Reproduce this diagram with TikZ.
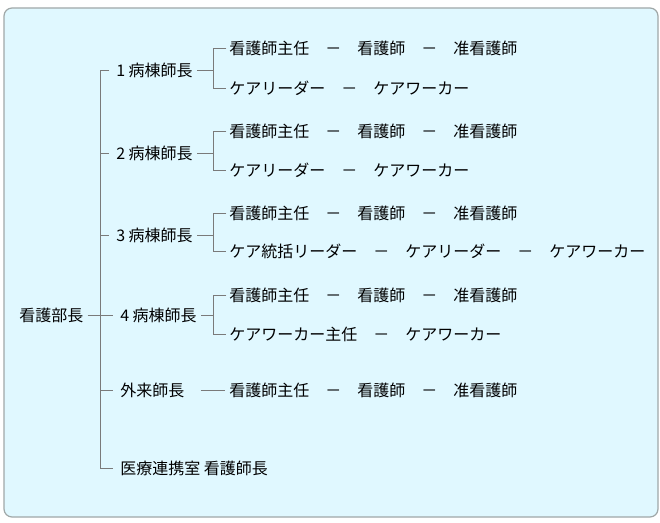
\documentclass[tikz,border=0pt]{standalone}
\usepackage{fontspec}
\setmainfont{Noto Sans CJK JP}
\usetikzlibrary{positioning}
\definecolor{bgcyan}{HTML}{E0F8FF}
\definecolor{frame}{HTML}{A0A8A8}
\definecolor{linegray}{HTML}{7A7A7A}
\newcommand{\sep}{\hspace{1em}－\hspace{1em}}

\begin{document}
\begin{tikzpicture}[
    x=0.75pt, y=-0.75pt,
    lbl/.style={anchor=west, inner sep=0pt, font=\fontsize{12pt}{14pt}\selectfont},
    line/.style={draw=linegray, line width=0.6pt}]
\useasboundingbox (0,0) rectangle (660,523);
\draw[frame, fill=bgcyan, rounded corners=6pt, line width=0.9pt] (4,8) rectangle (658,517);

% head and second level
\node[lbl] (head) at (19,315) {看護部長};
\node[lbl] (w1) at (116,70) {1 病棟師長};
\node[lbl] (w2) at (116,153) {2 病棟師長};
\node[lbl] (w3) at (116,235) {3 病棟師長};
\node[lbl] (w4) at (120,315) {4 病棟師長};
\node[lbl] (out) at (120,390) {外来師長};
\node[lbl] (med) at (120,468) {医療連携室 看護師長};

% third level
\node[lbl] (w1a) at (229,48) {看護師主任\sep 看護師\sep 准看護師};
\node[lbl] (w1b) at (229,88) {ケアリーダー\sep ケアワーカー};
\node[lbl] (w2a) at (229,131) {看護師主任\sep 看護師\sep 准看護師};
\node[lbl] (w2b) at (229,170) {ケアリーダー\sep ケアワーカー};
\node[lbl] (w3a) at (229,213) {看護師主任\sep 看護師\sep 准看護師};
\node[lbl] (w3b) at (229,251) {ケア統括リーダー\sep ケアリーダー\sep ケアワーカー};
\node[lbl] (w4a) at (229,295) {看護師主任\sep 看護師\sep 准看護師};
\node[lbl] (w4b) at (229,334) {ケアワーカー主任\sep ケアワーカー};
\node[lbl] (outa) at (229,390) {看護師主任\sep 看護師\sep 准看護師};

\coordinate (trunk) at (100,0);
\coordinate (brace) at (213,0);

% trunk
\draw[line] ([xshift=3pt]head.east) -- ([xshift=-5pt]w4.west);
\draw[line] ([xshift=-5pt]w1.west) -- (w1.west -| trunk) -- (med.west -| trunk) -- ([xshift=-5pt]med.west);
\foreach \n in {w2,w3,out}
  \draw[line] (\n.west -| trunk) -- ([xshift=-5pt]\n.west);

% sub branches
\foreach \n in {w1,w2,w3,w4} {
  \draw[line] ([xshift=3pt]\n.east) -- (\n.east -| brace);
  \draw[line] ([xshift=-2pt]\n a.west) -- (\n a.west -| brace) -- (\n b.west -| brace) -- ([xshift=-2pt]\n b.west);
}
\draw[line] ([xshift=12pt]out.east) -- ([xshift=-3pt]outa.west);
\end{tikzpicture}
\end{document}
